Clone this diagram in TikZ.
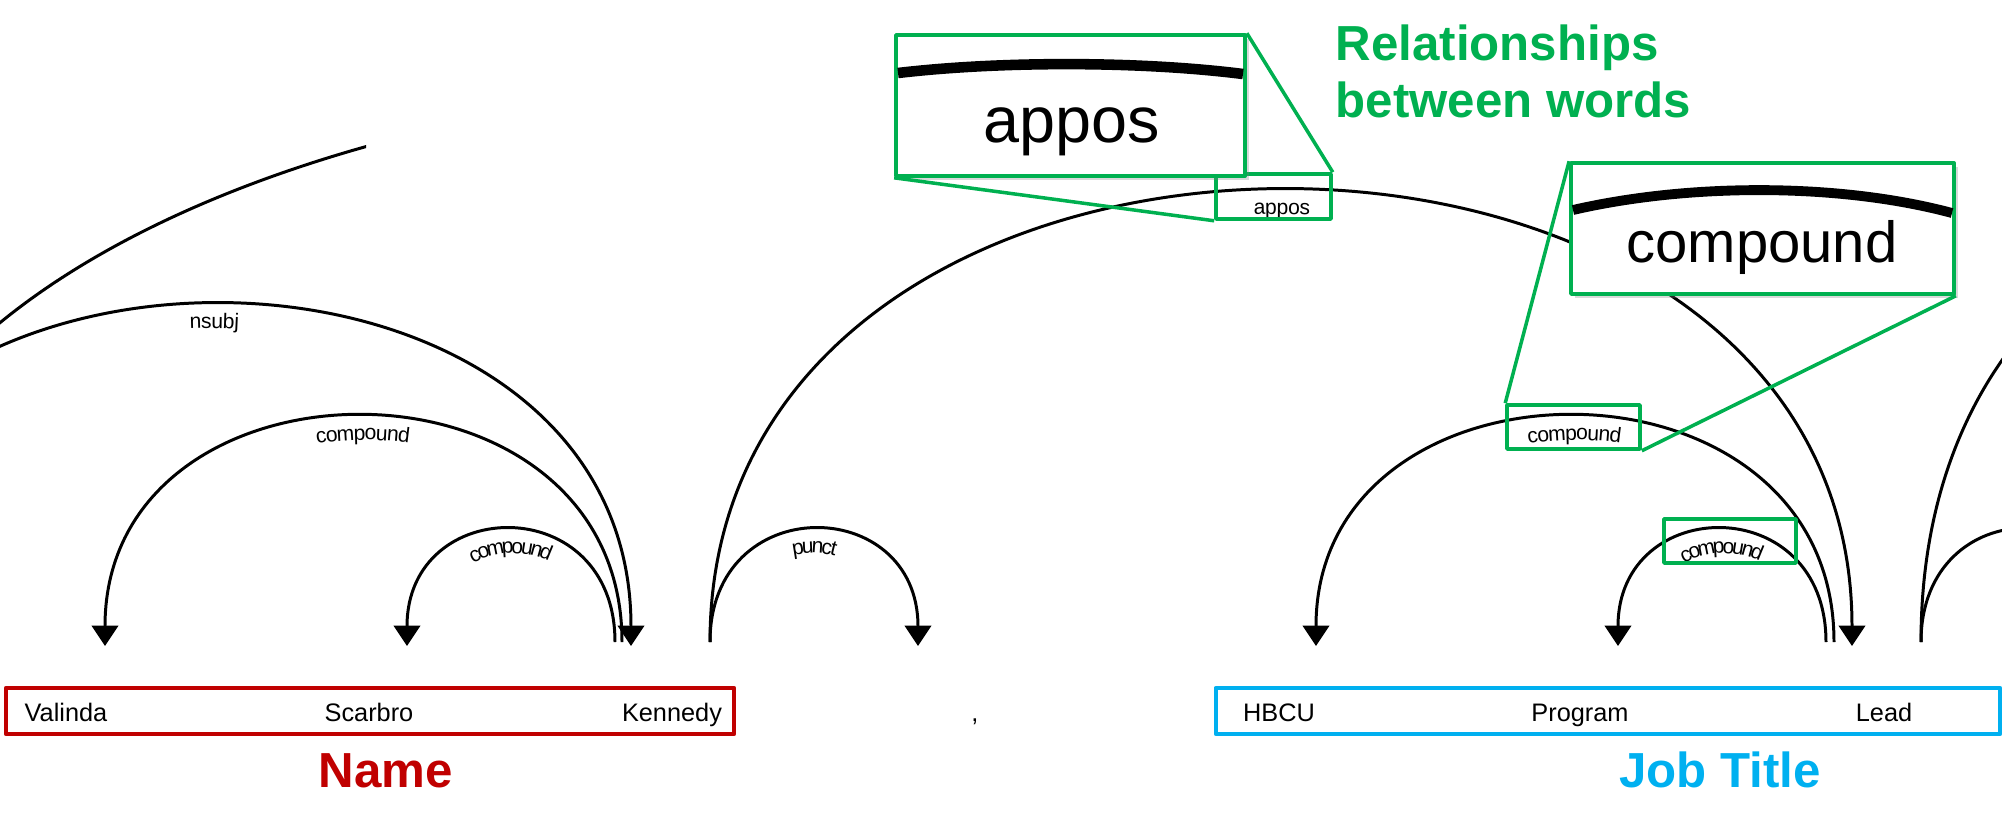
\documentclass[tikz,border=0pt]{standalone}
\usepackage{fontspec}
\setmainfont{Liberation Sans}
\usetikzlibrary{arrows.meta,decorations.text,shadows}
\definecolor{relgreen}{RGB}{0,176,80}
\definecolor{namered}{RGB}{192,0,0}
\definecolor{jobblue}{RGB}{0,176,240}
\newcommand{\wordfont}{\fontsize{7.2pt}{8pt}\selectfont}
\newcommand{\lblfont}{\fontsize{6pt}{7pt}\selectfont}
\newcommand{\titlefont}{\fontsize{14pt}{16pt}\selectfont\bfseries}
\begin{document}
\begin{tikzpicture}[x=0.01cm,y=-0.01cm,>={Triangle[width=7.5pt,length=5.8pt]},line join=round,
    deparc/.style={line width=0.85pt},
    arclabel/.style={postaction={decorate,arrows=-},decoration={text along path,text align=center,raise=-6.6pt,text={|\lblfont|#1}}},
    word/.style={inner sep=0pt,anchor=base,font=\wordfont},
    groupbox/.style={draw=#1,line width=1.2pt,inner sep=0pt,minimum height=0.46cm},
    grouptitle/.style={inner sep=0pt,anchor=base,font=\titlefont,text=#1},
    markbox/.style={draw=relgreen,line width=1pt,inner sep=0pt},
    lensbox/.style={markbox,fill=white,drop shadow={shadow xshift=1.2pt,shadow yshift=-1.2pt,opacity=0.3}}]
    \useasboundingbox (0,0) rectangle (2002,833);
    \clip (0,0) rectangle (2002,833);
    \def\lone{152} \def\ltwo{303} \def\lthree{452} \def\lfour{604} \def\lfive{755}

    \node[word] (valinda) at (66,721) {Valinda};
    \node[word] (scarbro) at (369,721) {Scarbro};
    \node[word] (kennedy) at (672,721) {Kennedy};
    \node[word] (comma) at (975,721) {,};
    \node[word] (hbcu) at (1279,721) {HBCU};
    \node[word] (program) at (1580,721) {Program};
    \node[word] (lead) at (1884,721) {Lead};
    \node[groupbox=namered,minimum width=7.28cm] (namegroup) at (370,711) {};
    \node[groupbox=jobblue,minimum width=7.84cm] (jobgroup) at (1608,711) {};
    \node[grouptitle=namered] (nametitle) at (386,787) {Name};
    \node[grouptitle=jobblue] (jobtitle) at (1720,787) {Job Title};

    \coordinate (vIn) at (105,646);
    \coordinate (sIn) at (407,646);
    \coordinate (kOut1) at (615,642);
    \coordinate (kOut2) at (622,642);
    \coordinate (kIn) at (631,646);
    \coordinate (kOut3) at (710,642);
    \coordinate (cIn) at (918,646);
    \coordinate (hIn) at (1316,646);
    \coordinate (pIn) at (1618,646);
    \coordinate (lOut1) at (1826,642);
    \coordinate (lOut2) at (1834,642);
    \coordinate (lIn) at (1852,646);
    \coordinate (lOut3) at (1921,642);
    \coordinate (leftA) at (-204,642);
    \coordinate (leftB) at (-166,642);
    \coordinate (farB) at (1998,642);
    \coordinate (rightA) at (2129,642);
    \coordinate (rightB) at (2756,642);

    \draw[deparc,<-,arclabel=compound] (sIn) .. controls +(0,-\lone) and +(0,-\lone) .. (kOut1);
    \draw[deparc,<-,arclabel=compound] (vIn) .. controls +(0,-\ltwo) and +(0,-\ltwo) .. (kOut2);
    \draw[deparc,->,arclabel=nsubj] (leftA) .. controls +(0,-\lthree) and +(0,-\lthree) .. (kIn);
    \begin{scope}
        \clip (0,0) rectangle (366,833);
        \draw[deparc] (leftB) .. controls +(0,-\lfive) and +(0,-\lfive) .. (farB);
    \end{scope}
    \draw[deparc,->,arclabel=punct] (kOut3) .. controls +(0,-\lone) and +(0,-\lone) .. (cIn);
    \draw[deparc,->,arclabel=appos] (kOut3) .. controls +(0,-\lfour) and +(0,-\lfour) .. (lIn);
    \draw[deparc,<-,arclabel=compound] (hIn) .. controls +(0,-\ltwo) and +(0,-\ltwo) .. (lOut2);
    \draw[deparc,<-,arclabel=compound] (pIn) .. controls +(0,-\lone) and +(0,-\lone) .. (lOut1);
    \draw[deparc] (lOut3) .. controls +(0,-\lone) and +(0,-\lone) .. (rightA);
    \draw[deparc] (lOut3) .. controls +(0,-\lfour) and +(0,-\lfour) .. (rightB);

    \node[markbox,minimum width=1.15cm,minimum height=0.45cm] (apposmark) at (1273.5,196.5) {};
    \node[markbox,minimum width=1.33cm,minimum height=0.44cm] (compmark) at (1573.5,427) {};
    \node[markbox,minimum width=1.32cm,minimum height=0.44cm] (compmarkb) at (1730,541) {};

    \node[lensbox,minimum width=3.49cm,minimum height=1.41cm] (apposlens) at (1070.5,105.5) {};
    \draw[line width=3pt] (898,73) .. controls (1000,61) and (1140,61) .. (1243,74);
    \node[anchor=base,inner sep=0pt,font=\fontsize{18.4pt}{20pt}\selectfont] (apposbig) at (1072,142) {appos};
    \node[lensbox,minimum width=3.83cm,minimum height=1.31cm] (complens) at (1762.5,228.5) {};
    \draw[line width=2.8pt] (1573,210) .. controls (1690,183) and (1840,183) .. (1952,213);
    \node[anchor=base,inner sep=0pt,font=\fontsize{16.5pt}{18pt}\selectfont] (compbig) at (1762,262) {compound};

    \draw[relgreen,line width=1pt] (apposlens.south west) -- (apposmark.south west)
        (apposlens.north east) -- (apposmark.north east);
    \draw[relgreen,line width=1pt] (complens.north west) -- (compmark.north west)
        (complens.south east) -- (compmark.south east);

    \node[anchor=base west,inner sep=0pt,font=\titlefont,text=relgreen] (relA) at (1335,60) {Relationships};
    \node[anchor=base west,inner sep=0pt,font=\titlefont,text=relgreen] (relB) at (1335,117) {between words};
\end{tikzpicture}
\end{document}
